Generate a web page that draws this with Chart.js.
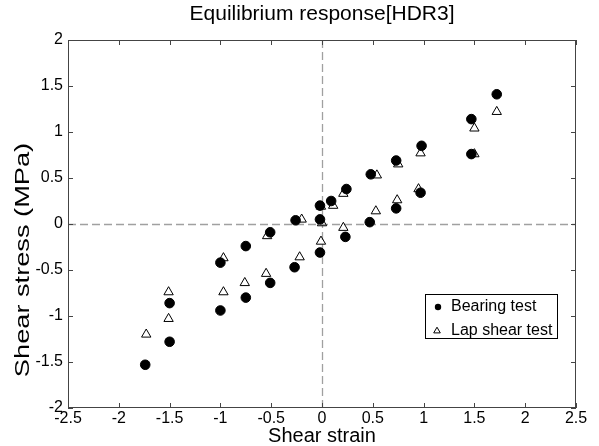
<!DOCTYPE html>
<html>
<head>
<meta charset="utf-8">
<script src="https://cdn.jsdelivr.net/npm/chart.js@4"></script>
<style>
  body { margin: 0; background: #fff; }
  canvas { display: block; }
</style>
</head>
<body>
<canvas id="eqChart" width="599" height="446"></canvas>
<script>
// Equilibrium response [HDR3] - shear stress vs shear strain

const xTicks = [-2.5, -2, -1.5, -1, -0.5, 0, 0.5, 1, 1.5, 2, 2.5];
const yTicks = [-2, -1.5, -1, -0.5, 0, 0.5, 1, 1.5, 2];

// Bearing test (filled circles)
const bearingX = [-1.74, -1.50, -1.50, -1.00, -1.00, -0.75, -0.75, -0.51, -0.51, -0.27, -0.26, -0.02, -0.02, -0.02,
                  0.09, 0.23, 0.24, 0.47, 0.48, 0.73, 0.73, 0.97, 0.98, 1.47, 1.47, 1.72];
const bearingY = [-1.53, -1.28, -0.86, -0.94, -0.42, -0.80, -0.24, -0.64, -0.09, -0.47, 0.04, -0.31, 0.05, 0.20,
                  0.25, -0.14, 0.38, 0.02, 0.54, 0.17, 0.69, 0.34, 0.85, 0.76, 1.14, 1.41];

// Lap shear test (open triangles)
const lapX = [-1.73, -1.51, -1.51, -0.97, -0.97, -0.76, -0.55, -0.54, -0.22, -0.20, -0.01, 0.00, -0.01,
              0.11, 0.21, 0.21, 0.53, 0.54, 0.74, 0.75, 0.95, 0.97, 1.50, 1.50, 1.72];
const lapY = [-1.20, -1.03, -0.74, -0.74, -0.37, -0.64, -0.54, -0.13, -0.36, 0.05, -0.19, 0.01, 0.19,
              0.20, -0.04, 0.33, 0.14, 0.53, 0.26, 0.65, 0.38, 0.77, 0.76, 1.04, 1.22];

const FONT = '"Liberation Sans", Arial, sans-serif';
const toPoints = (xs, ys) => xs.map((x, i) => ({ x: x, y: ys[i] }));

// box, inward ticks, dashed zero lines, y title and legend (matlab look)
const matlabAxes = {
    id: "matlabAxes",
    beforeDatasetsDraw(chart) {
        const { ctx, chartArea: a, scales: { x, y } } = chart;
        ctx.save();
        ctx.strokeStyle = "#a0a0a0";
        ctx.lineWidth = 1.3;
        ctx.setLineDash([8, 4]);
        const x0 = Math.round(x.getPixelForValue(0)) + 0.5;
        const y0 = Math.round(y.getPixelForValue(0)) + 0.5;
        ctx.beginPath();
        ctx.moveTo(x0, a.top); ctx.lineTo(x0, a.bottom);
        ctx.moveTo(a.left, y0); ctx.lineTo(a.right, y0);
        ctx.stroke();
        ctx.restore();
    },
    afterDraw(chart) {
        const { ctx, chartArea: a, scales: { x, y } } = chart;
        ctx.save();
        ctx.strokeStyle = "#444";
        ctx.lineWidth = 1;
        ctx.strokeRect(a.left + 0.5, a.top + 0.5, a.right - a.left - 1, a.bottom - a.top - 1);
        ctx.beginPath();
        xTicks.forEach(v => {
            const px = Math.round(x.getPixelForValue(v)) + 0.5;
            ctx.moveTo(px, a.bottom); ctx.lineTo(px, a.bottom - 5);
            ctx.moveTo(px, a.top); ctx.lineTo(px, a.top + 5);
        });
        yTicks.forEach(v => {
            const py = Math.round(y.getPixelForValue(v)) + 0.5;
            ctx.moveTo(a.left, py); ctx.lineTo(a.left + 5, py);
            ctx.moveTo(a.right, py); ctx.lineTo(a.right - 5, py);
        });
        ctx.stroke();

        // y axis title (stretched along its length like the original figure)
        ctx.fillStyle = "#000";
        ctx.font = "20px " + FONT;
        ctx.textAlign = "center";
        ctx.textBaseline = "middle";
        ctx.translate(23, 260);
        ctx.rotate(-Math.PI / 2);
        ctx.scale(1.36, 1);
        ctx.fillText("Shear stress (MPa)", 0, 0);
        ctx.restore();

        // legend box
        ctx.save();
        const lx = 425, ly = 294, lw = 132, lh = 44;
        ctx.fillStyle = "#fff";
        ctx.fillRect(lx, ly, lw, lh);
        ctx.strokeStyle = "#000";
        ctx.lineWidth = 1;
        ctx.strokeRect(lx + 0.5, ly + 0.5, lw, lh);
        ctx.font = "16px " + FONT;
        ctx.textAlign = "left";
        ctx.textBaseline = "middle";
        chart.data.datasets.forEach((ds, i) => {
            const cy = ly + 13 + i * 24;
            ctx.fillStyle = "#000";
            ctx.fillText(ds.label, lx + 26, cy);
            if (ds.pointStyle === "circle") {
                ctx.beginPath();
                ctx.arc(lx + 13, cy, 3.2, 0, Math.PI * 2);
                ctx.fill();
            } else {
                const r = 3.8;
                ctx.beginPath();
                ctx.moveTo(lx + 12, cy - r);
                ctx.lineTo(lx + 12 + r * 0.866, cy + r / 2);
                ctx.lineTo(lx + 12 - r * 0.866, cy + r / 2);
                ctx.closePath();
                ctx.stroke();
            }
        });
        ctx.restore();
    }
};

const ctx = document.getElementById("eqChart").getContext("2d");
const eqChart = new Chart(ctx, {
    type: "scatter",
    data: {
        datasets: [{
            label: "Bearing test",
            data: toPoints(bearingX, bearingY),
            pointStyle: "circle",
            pointRadius: 4.8,
            backgroundColor: "#000",
            borderColor: "#000",
            borderWidth: 1
        }, {
            label: "Lap shear test",
            data: toPoints(lapX, lapY),
            pointStyle: "triangle",
            pointRadius: 5.4,
            backgroundColor: "rgba(0,0,0,0)",
            borderColor: "#000",
            borderWidth: 1
        }]
    },
    options: {
        responsive: false,
        animation: false,
        layout: { padding: { top: 0, right: 23, left: 0, bottom: 0 } },
        plugins: {
            legend: { display: false },
            tooltip: { enabled: false },
            title: {
                display: true,
                fullSize: false,
                text: "Equilibrium response[HDR3]",
                color: "#000",
                font: { family: FONT, size: 21, weight: "normal", lineHeight: 1.2 },
                padding: { top: 2, bottom: 12.8 }
            }
        },
        scales: {
            x: {
                type: "linear",
                min: -2.5,
                max: 2.5,
                afterBuildTicks: s => { s.ticks = xTicks.map(v => ({ value: v })); },
                afterFit: s => { s.height = 38; },
                grid: { display: false, drawTicks: false },
                border: { display: false },
                ticks: {
                    color: "#000",
                    padding: 1,
                    maxRotation: 0,
                    autoSkip: false,
                    font: { family: FONT, size: 16 },
                    callback: v => String(v)
                },
                title: {
                    display: true,
                    text: "Shear strain",
                    color: "#000",
                    padding: 0,
                    font: { family: FONT, size: 20, lineHeight: 1 }
                }
            },
            y: {
                type: "linear",
                min: -2,
                max: 2,
                afterBuildTicks: s => { s.ticks = yTicks.map(v => ({ value: v })); },
                afterFit: s => { s.width = 68; },
                grid: { display: false, drawTicks: false },
                border: { display: false },
                ticks: {
                    color: "#000",
                    padding: 5,
                    autoSkip: false,
                    font: { family: FONT, size: 16 },
                    callback: v => String(v)
                }
            }
        }
    },
    plugins: [matlabAxes]
});
</script>
</body>
</html>
